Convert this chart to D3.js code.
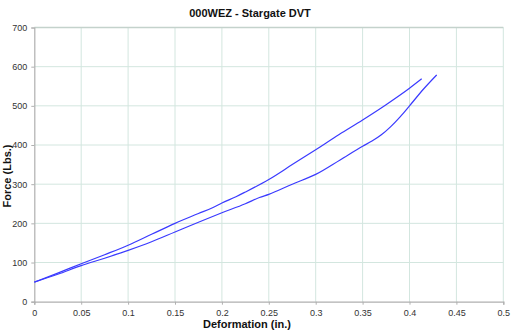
<!DOCTYPE html>
<html><head><meta charset="utf-8">
<script src="https://cdn.jsdelivr.net/npm/d3@7"></script>
<style>body{margin:0;background:#fff}svg{display:block;font-family:"Liberation Sans",Arial,sans-serif}</style>
</head><body><svg id="c" width="513" height="334"></svg>
<script>
const title = "000WEZ - Stargate DVT";
const xLabel = "Deformation (in.)";
const yLabel = "Force (Lbs.)";
const xTicks = [0,0.05,0.1,0.15,0.2,0.25,0.3,0.35,0.4,0.45,0.5];
const yTicks = [0,100,200,300,400,500,600,700];
const upperX = [0,0.025,0.05,0.075,0.1,0.125,0.15,0.175,0.19,0.2,0.215,0.225,0.25,0.275,0.3,0.325,0.35,0.375,0.4,0.413];
const upperY = [50,73,97,120,144,172,200,225,240,252,268,280,312,350,388,427,464,503,545,569];
const lowerX = [0,0.025,0.05,0.075,0.1,0.125,0.15,0.175,0.2,0.225,0.24,0.25,0.275,0.3,0.326,0.35,0.36,0.37,0.38,0.39,0.4,0.415,0.429];
const lowerY = [50,70,92,111,131,153,178,203,227,250,266,274,300,325,362,397,410,426,447,472,500,543,579];

const svg = d3.select("#c");
const L=34.3, R=503.3, T=27.5, B=301.7;
const x = d3.scaleLinear().domain([0,0.5]).range([L,R]);
const y = d3.scaleLinear().domain([0,700]).range([B,T]);

// gridlines
svg.append("g").selectAll("line").data(xTicks.slice(1)).join("line")
  .attr("x1",d=>x(d)).attr("x2",d=>x(d)).attr("y1",T).attr("y2",B)
  .attr("stroke","#d3e6df").attr("stroke-width",1);
svg.append("g").selectAll("line").data(yTicks.slice(1)).join("line")
  .attr("x1",L).attr("x2",R).attr("y1",d=>y(d)).attr("y2",d=>y(d))
  .attr("stroke","#d3e6df").attr("stroke-width",1);
// top border
svg.append("line").attr("x1",L).attr("x2",R).attr("y1",T).attr("y2",T).attr("stroke","#c4d2cc").attr("stroke-width",1.5);

// axes
const xAxis = d3.axisBottom(x).tickValues(xTicks).tickSize(3).tickFormat(d=>d3.format("~g")(d));
const yAxis = d3.axisLeft(y).tickValues(yTicks).tickSize(3).tickFormat(d3.format("d"));
const gx = svg.append("g").attr("transform",`translate(0,${B})`).call(xAxis);
const gy = svg.append("g").attr("transform",`translate(${L},0)`).call(yAxis);
[gx,gy].forEach(g=>{
  g.select(".domain").attr("stroke","#b0b0b0").attr("stroke-width",1.2);
  g.selectAll(".tick line").attr("stroke","#b0b0b0");
  g.selectAll("text").attr("fill","#333").attr("font-size",9).attr("font-family","Liberation Sans, Arial, sans-serif");
});
gx.selectAll("text").attr("dy","0.9em");
gy.selectAll("text").attr("dx","-1");

// lines
const line = d3.line().x(d=>x(d[0])).y(d=>y(d[1])).curve(d3.curveMonotoneX);
svg.append("path").datum(upperX.map((v,i)=>[v,upperY[i]])).attr("d",line)
  .attr("fill","none").attr("stroke","#3a3aff").attr("stroke-width",1.2);
svg.append("path").datum(lowerX.map((v,i)=>[v,lowerY[i]])).attr("d",line)
  .attr("fill","none").attr("stroke","#3a3aff").attr("stroke-width",1.2);

// titles
svg.append("text").attr("x",250).attr("y",17).attr("text-anchor","middle")
  .attr("font-weight","bold").attr("font-size",11).attr("fill","#111").text(title);
svg.append("text").attr("x",247).attr("y",328).attr("text-anchor","middle")
  .attr("font-weight","bold").attr("font-size",11).attr("fill","#111").text(xLabel);
svg.append("text").attr("transform","translate(11,176) rotate(-90)").attr("text-anchor","middle")
  .attr("font-weight","bold").attr("font-size",11).attr("fill","#111").text(yLabel);
</script></body></html>
